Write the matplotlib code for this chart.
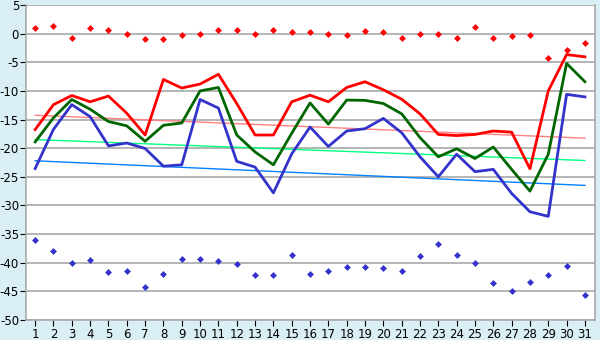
import matplotlib
matplotlib.use("Agg")
import matplotlib.pyplot as plt

# jours du mois
jours = list(range(1, 32))

# courbes principales
rouge = [-16.75, -12.4, -10.8, -11.9, -10.9, -13.9, -17.7, -8.0, -9.5, -8.8,
         -7.1, -12.2, -17.7, -17.7, -11.9, -10.75, -11.9, -9.4, -8.4, -9.8,
         -11.45, -14.0, -17.6, -17.8, -17.6, -17.0, -17.2, -23.6, -10.0, -3.65, -4.05]
vert = [-18.9, -14.7, -11.5, -13.2, -15.35, -16.1, -18.8, -16.0, -15.6, -10.0,
        -9.4, -17.7, -20.65, -22.9, -17.4, -12.1, -15.8, -11.6, -11.65, -12.2,
        -14.0, -18.15, -21.5, -20.1, -21.8, -19.8, -23.7, -27.5, -21.05, -5.2, -8.4]
bleu = [-23.55, -16.7, -12.4, -14.5, -19.6, -19.1, -20.05, -23.15, -22.9, -11.5,
        -13.0, -22.3, -23.3, -27.8, -21.0, -16.3, -19.7, -17.0, -16.6, -14.8,
        -17.3, -21.5, -25.0, -21.05, -24.1, -23.7, -27.9, -31.1, -31.9, -10.6, -11.05]

# points (losanges)
pts_haut = [1.07, 1.3, -0.7, 0.9, 0.7, 0.0, -1.0, -0.9, -0.3, 0.0,
            0.7, 0.7, 0.0, 0.7, 0.2, 0.35, 0.0, -0.2, 0.5, 0.35,
            -0.7, 0.0, 0.0, -0.8, 1.1, -0.8, -0.5, -0.3, -4.2, -2.8, -1.7]
pts_bas = [-35.95, -37.9, -40.0, -39.6, -41.7, -41.4, -44.2, -41.9, -39.4, -39.4,
           -39.7, -40.3, -42.2, -42.2, -38.6, -41.9, -41.4, -40.7, -40.7, -41.0,
           -41.5, -38.8, -36.7, -38.6, -40.0, -43.5, -44.9, -43.3, -42.2, -40.5, -45.7]

# tendances (début, fin)
tend_rouge = [-14.25, -18.25]
tend_vert = [-18.5, -22.15]
tend_bleu = [-22.2, -26.5]

plt.rcParams['axes.unicode_minus'] = False
plt.rcParams['font.family'] = 'DejaVu Sans'

fig = plt.figure(figsize=(6, 3.4), dpi=100, facecolor='#daeff5')
ax = fig.add_axes([26/600, 20/340, 569/600, 315/340])
ax.set_facecolor('white')

bornes = [jours[0], jours[-1]]
ax.plot(bornes, tend_rouge, color='#ff8080', lw=1)
ax.plot(bornes, tend_vert, color='#00ff80', lw=1)
ax.plot(bornes, tend_bleu, color='#0080ff', lw=1)

ax.plot(jours, rouge, color='#ff0000', lw=2)
ax.plot(jours, vert, color='#006600', lw=2)
ax.plot(jours, bleu, color='#3333cc', lw=2)

ax.plot(jours, pts_haut, 'D', color='#ff0000', ms=3.5, mew=0)
ax.plot(jours, pts_bas, 'D', color='#3333cc', ms=3.5, mew=0)

ax.set_xlim(0.5, 31.55)
ax.set_ylim(-50, 5)
ax.set_xticks(jours)
ax.set_yticks(range(-50, 6, 5))
ax.yaxis.grid(True, color='#a8a8a8', lw=1.2)
ax.set_axisbelow(True)
for s in ax.spines.values():
    s.set_color('#a8a8a8')
    s.set_linewidth(1.2)
ax.spines['top'].set_visible(False)
ax.tick_params(axis='both', labelsize=8.5, length=4, color='black', pad=2)
ax.tick_params(axis='y', pad=1)

plt.savefig('out.png', dpi=100, facecolor=fig.get_facecolor())
